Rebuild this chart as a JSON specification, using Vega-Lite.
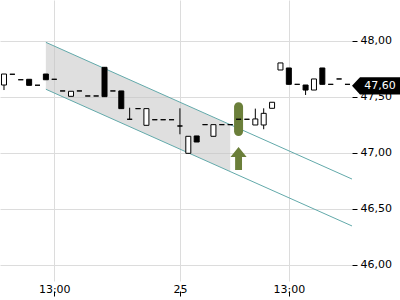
{
  "$schema": "https://vega.github.io/schema/vega-lite/v6.json",
  "width": 352,
  "height": 281,
  "autosize": {"type": "none"},
  "padding": {"left": 0, "top": 0, "right": 48, "bottom": 19},
  "background": "white",
  "config": {
    "view": {"stroke": null},
    "font": "DejaVu Sans",
    "axis": {"labelFont": "DejaVu Sans", "labelFontSize": 11, "labelColor": "black", "title": null}
  },
  "datasets": {
    "candles": [
      {"i": 0, "o": 47.607, "h": 47.705, "l": 47.562, "c": 47.705},
      {"i": 1, "o": 47.703, "h": 47.703, "l": 47.703, "c": 47.703},
      {"i": 2, "o": 47.654, "h": 47.654, "l": 47.654, "c": 47.654},
      {"i": 3, "o": 47.658, "h": 47.658, "l": 47.604, "c": 47.604},
      {"i": 4, "o": 47.605, "h": 47.605, "l": 47.605, "c": 47.605},
      {"i": 5, "o": 47.705, "h": 47.705, "l": 47.654, "c": 47.654},
      {"i": 6, "o": 47.658, "h": 47.658, "l": 47.658, "c": 47.658},
      {"i": 7, "o": 47.554, "h": 47.554, "l": 47.554, "c": 47.554},
      {"i": 8, "o": 47.506, "h": 47.551, "l": 47.506, "c": 47.551},
      {"i": 9, "o": 47.554, "h": 47.554, "l": 47.554, "c": 47.554},
      {"i": 10, "o": 47.509, "h": 47.509, "l": 47.509, "c": 47.509},
      {"i": 11, "o": 47.509, "h": 47.509, "l": 47.509, "c": 47.509},
      {"i": 12, "o": 47.765, "h": 47.765, "l": 47.503, "c": 47.503},
      {"i": 13, "o": 47.554, "h": 47.554, "l": 47.554, "c": 47.554},
      {"i": 14, "o": 47.554, "h": 47.554, "l": 47.396, "c": 47.396},
      {"i": 15, "o": 47.301, "h": 47.404, "l": 47.301, "c": 47.301},
      {"i": 16, "o": 47.396, "h": 47.396, "l": 47.396, "c": 47.396},
      {"i": 17, "o": 47.247, "h": 47.396, "l": 47.247, "c": 47.396},
      {"i": 18, "o": 47.297, "h": 47.297, "l": 47.297, "c": 47.297},
      {"i": 19, "o": 47.297, "h": 47.297, "l": 47.297, "c": 47.297},
      {"i": 20, "o": 47.297, "h": 47.297, "l": 47.297, "c": 47.297},
      {"i": 21, "o": 47.241, "h": 47.399, "l": 47.167, "c": 47.241},
      {"i": 22, "o": 46.997, "h": 47.149, "l": 46.997, "c": 47.149},
      {"i": 23, "o": 47.152, "h": 47.152, "l": 47.098, "c": 47.098},
      {"i": 24, "o": 47.253, "h": 47.253, "l": 47.253, "c": 47.253},
      {"i": 25, "o": 47.149, "h": 47.253, "l": 47.149, "c": 47.253},
      {"i": 26, "o": 47.253, "h": 47.253, "l": 47.253, "c": 47.253},
      {"i": 27, "o": 47.253, "h": 47.253, "l": 47.253, "c": 47.253},
      {"i": 28, "o": 47.301, "h": 47.301, "l": 47.301, "c": 47.301},
      {"i": 29, "o": 47.301, "h": 47.301, "l": 47.301, "c": 47.301},
      {"i": 30, "o": 47.25, "h": 47.396, "l": 47.25, "c": 47.304},
      {"i": 31, "o": 47.25, "h": 47.399, "l": 47.212, "c": 47.354},
      {"i": 32, "o": 47.399, "h": 47.453, "l": 47.399, "c": 47.453},
      {"i": 33, "o": 47.741, "h": 47.804, "l": 47.741, "c": 47.804},
      {"i": 34, "o": 47.759, "h": 47.759, "l": 47.613, "c": 47.613},
      {"i": 35, "o": 47.613, "h": 47.613, "l": 47.613, "c": 47.613},
      {"i": 36, "o": 47.607, "h": 47.607, "l": 47.518, "c": 47.562},
      {"i": 37, "o": 47.562, "h": 47.661, "l": 47.562, "c": 47.661},
      {"i": 38, "o": 47.759, "h": 47.759, "l": 47.613, "c": 47.613},
      {"i": 39, "o": 47.613, "h": 47.613, "l": 47.613, "c": 47.613},
      {"i": 40, "o": 47.661, "h": 47.661, "l": 47.661, "c": 47.661},
      {"i": 41, "o": 47.613, "h": 47.613, "l": 47.613, "c": 47.613}
    ],
    "channel": [
      {"i": 5, "v": 47.988, "line": "upper"},
      {"i": 42, "v": 46.752, "line": "upper"},
      {"i": 5, "v": 47.569, "line": "lower"},
      {"i": 42, "v": 46.333, "line": "lower"}
    ],
    "band": [
      {"i": 5, "top": 47.988, "bottom": 47.569},
      {"i": 27, "top": 47.253, "bottom": 46.834}
    ],
    "signal": [
      {"i": 28, "top": 47.453, "bottom": 47.152, "arrow": 46.951}
    ],
    "last": [
      {"v": 47.6, "label": "47,60"}
    ]
  },
  "resolve": {"axis": {"x": "independent"}},
  "layer": [
    {
      "data": {"name": "band"},
      "mark": {"type": "area", "color": "#c4c4c4", "opacity": 0.55},
      "encoding": {
        "x": {
          "field": "i", "type": "quantitative",
          "scale": {"domain": [-0.477, 41.54], "nice": false, "zero": false, "padding": 0},
          "axis": {
            "orient": "bottom", "values": [6, 21, 34],
            "labelExpr": "datum.value == 21 ? '25' : '13:00'",
            "grid": true, "gridColor": "#dcdcdc", "ticks": false, "domain": false,
            "labelPadding": 2, "labelFlush": false
          }
        },
        "y": {
          "field": "top", "type": "quantitative",
          "scale": {"domain": [45.857, 48.366], "nice": false, "zero": false, "padding": 0},
          "axis": {
            "orient": "right", "values": [46, 46.5, 47, 47.5, 48],
            "labelExpr": "replace(format(datum.value, '.2f'), '.', ',')",
            "grid": true, "gridColor": "#dcdcdc", "domain": false,
            "tickColor": "black", "tickSize": 5, "labelPadding": 3
          }
        },
        "y2": {"field": "bottom"}
      }
    },
    {
      "data": {"name": "channel"},
      "mark": {"type": "line", "color": "#62a9aa", "strokeWidth": 1, "clip": true},
      "encoding": {
        "x": {
          "field": "i", "type": "quantitative",
          "axis": {
            "orient": "bottom", "values": [6, 21, 34], "labels": false,
            "grid": false, "domain": false, "ticks": true, "tickSize": 5,
            "tickColor": "black", "offset": 10
          }
        },
        "y": {"field": "v", "type": "quantitative"},
        "detail": {"field": "line"}
      }
    },
    {
      "data": {"name": "signal"},
      "mark": {"type": "bar", "width": 9, "cornerRadius": 4.5, "color": "#6b7f3a"},
      "encoding": {
        "x": {"field": "i", "type": "quantitative", "axis": null},
        "y": {"field": "top", "type": "quantitative"},
        "y2": {"field": "bottom"}
      }
    },
    {
      "data": {"name": "signal"},
      "mark": {
        "type": "point", "filled": true, "opacity": 1, "color": "#6b7f3a", "size": 529,
        "shape": "M0,-1 L0.7,-0.13 L0.3,-0.13 L0.3,1 L-0.3,1 L-0.3,-0.13 L-0.7,-0.13 Z"
      },
      "encoding": {
        "x": {"field": "i", "type": "quantitative", "axis": null},
        "y": {"field": "arrow", "type": "quantitative"}
      }
    },
    {
      "data": {"name": "candles"},
      "mark": {"type": "rule", "color": "black", "strokeWidth": 1},
      "encoding": {
        "x": {"field": "i", "type": "quantitative", "axis": null},
        "y": {"field": "l", "type": "quantitative"},
        "y2": {"field": "h"}
      }
    },
    {
      "data": {"name": "candles"},
      "mark": {"type": "bar", "width": 5, "stroke": "black", "strokeWidth": 1},
      "encoding": {
        "x": {"field": "i", "type": "quantitative", "axis": null},
        "y": {"field": "o", "type": "quantitative"},
        "y2": {"field": "c"},
        "fill": {"condition": {"test": "datum.c > datum.o", "value": "white"}, "value": "black"}
      }
    },
    {
      "data": {"name": "last"},
      "mark": {
        "type": "point", "filled": true, "opacity": 1, "color": "black", "size": 2304,
        "shape": "M-1,0 L-0.667,-0.36 L1,-0.36 L1,0.36 L-0.667,0.36 Z",
        "xOffset": 24, "clip": false
      },
      "encoding": {
        "x": {"value": "width"},
        "y": {"field": "v", "type": "quantitative"}
      }
    },
    {
      "data": {"name": "last"},
      "mark": {
        "type": "text", "color": "white", "fontSize": 11, "font": "DejaVu Sans",
        "align": "center", "baseline": "middle", "xOffset": 28
      },
      "encoding": {
        "x": {"value": "width"},
        "y": {"field": "v", "type": "quantitative"},
        "text": {"field": "label"}
      }
    }
  ]
}
